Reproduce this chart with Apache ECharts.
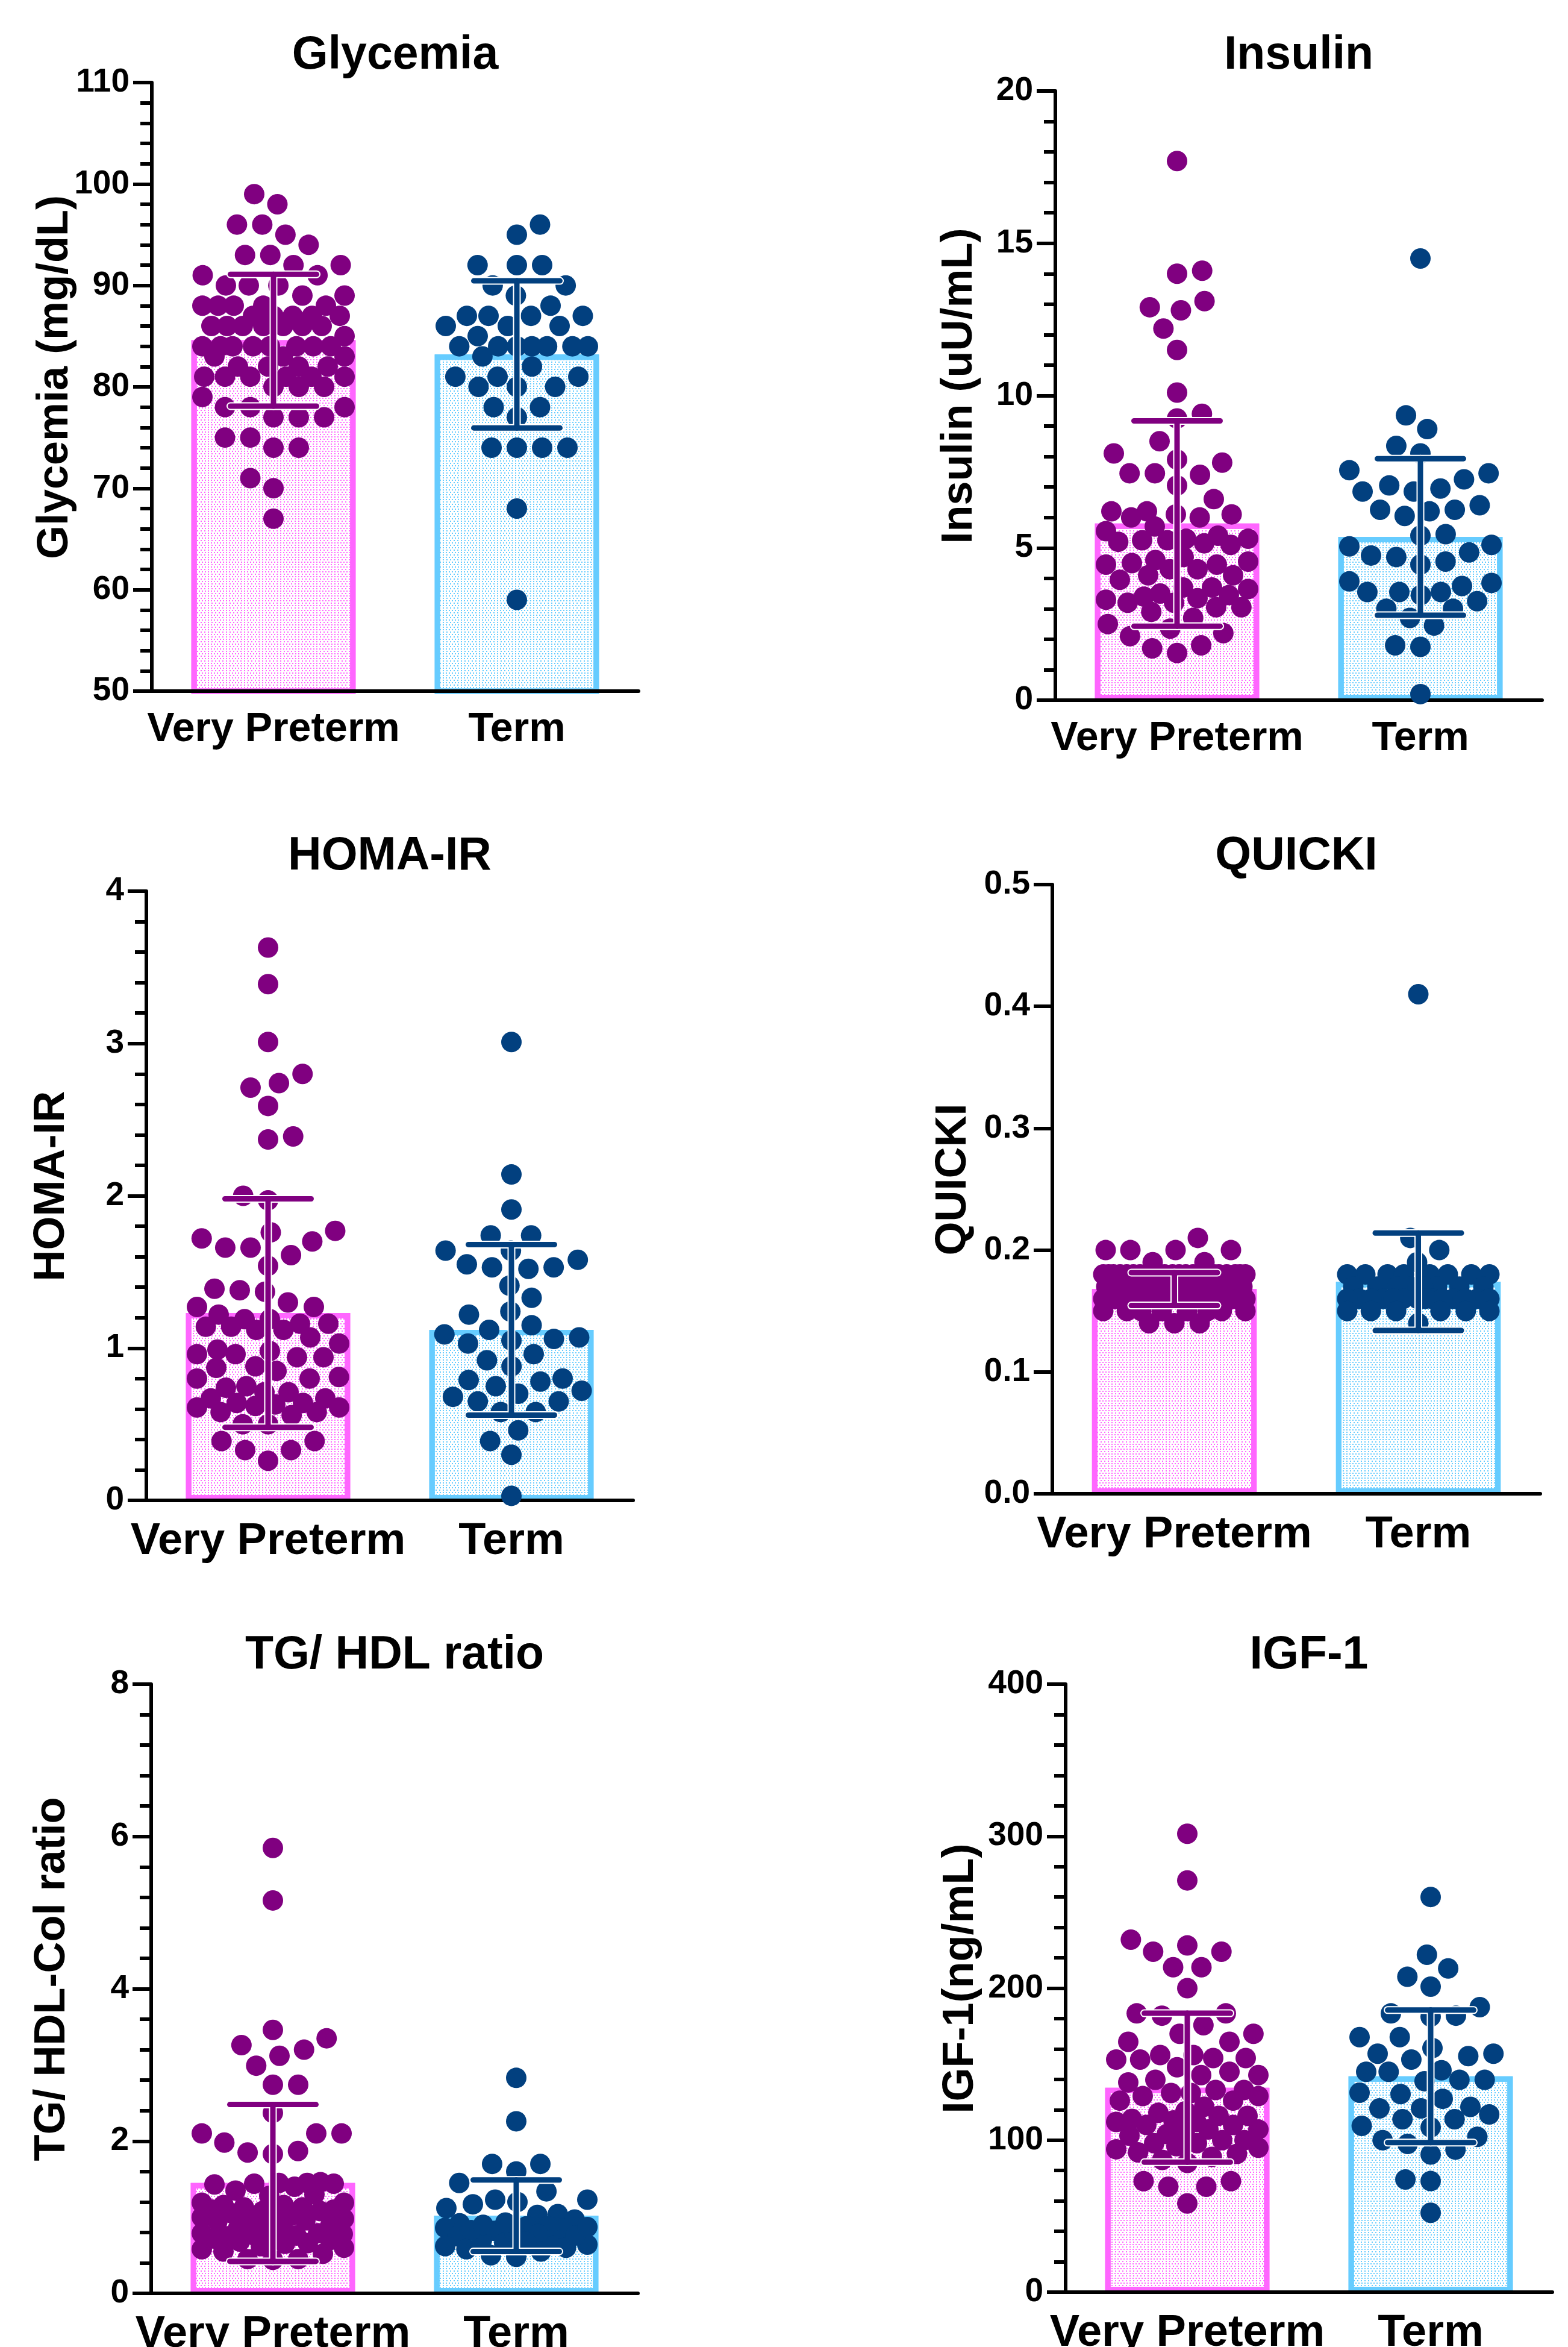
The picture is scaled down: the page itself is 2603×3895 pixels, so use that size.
<!DOCTYPE html>
<html><head><meta charset="utf-8">
<script src="https://cdn.jsdelivr.net/npm/echarts@6.0.0/dist/echarts.min.js"></script>
<style>html,body{margin:0;padding:0;background:#fff}#c{width:2603px;height:3895px}</style>
</head><body><div id="c"></div><script>
// ---------------- DATA ----------------
const categories = ['Very Preterm', 'Term'];

const glyVP = [99, 98, 96, 96, 95, 94, 93, 93, 92, 92, 91, 91, 90, 90, 90, 89, 89, 88, 88, 88, 88, 88, 87, 87, 87, 87, 87, 86, 86, 86, 86, 86, 86, 86, 85, 84, 84, 84, 84, 84, 84, 84, 84, 83, 83, 83, 82, 82, 82, 82, 81, 81, 81, 81, 81, 81, 80, 80, 80, 79, 78, 78, 78, 77, 77, 77, 75, 75, 74, 74, 71, 70, 67];
const glyTerm = [96, 95, 92, 92, 92, 90, 90, 89, 88, 87, 87, 87, 87, 86, 86, 86, 85, 84, 84, 84, 84, 84, 84, 84, 83, 82, 81, 81, 81, 80, 80, 80, 78, 78, 77, 74, 74, 74, 74, 68, 59];
const glyMean = [84.6, 83.2];
const glySD = [6.5, 7.25];

const insVP = [17.7, 14.0, 14.1, 12.9, 12.8, 13.1, 12.2, 11.5, 10.1, 9.4, 9.25, 8.5, 8.1, 7.9, 7.8, 7.45, 7.4, 7.45, 7.05, 6.6, 6.2, 6.1, 6.0, 6.0, 6.1, 6.2, 5.7, 5.55,
  5.4, 5.3, 5.25, 5.15, 5.1, 5.2, 5.25, 5.3,
  4.7, 4.5, 4.45, 4.3, 4.1, 3.95, 4.1, 4.3, 4.45, 4.55, 4.6,
  3.7, 3.65,
  3.7, 3.4, 3.3, 3.2, 3.05, 2.9, 3.05, 3.2, 3.35, 3.45, 3.5,
  2.7, 2.5, 2.35, 2.2, 2.1, 1.8, 1.7, 1.55];
const insTerm = [14.5, 9.35, 8.9, 8.35, 8.1, 7.45, 7.55, 7.05, 6.85, 6.85, 6.95, 7.25, 6.25, 6.2, 6.05, 6.25, 6.4, 5.45, 5.4, 5.05, 5.1, 4.75, 4.7, 4.85, 4.55, 4.45, 3.9, 3.85, 3.55, 3.55, 3.25, 3.45, 3.55, 3.75, 3.0, 3.0, 2.7, 2.45, 1.8, 1.75, 0.2];
const insMean = [5.8, 5.36];
const insSD = [3.37, 2.57];

const homaVP = [3.63, 3.39, 3.01, 2.80, 2.71, 2.74, 2.59, 2.37, 2.39, 2.00, 1.97, 1.77, 1.76, 1.72, 1.70, 1.66, 1.66, 1.61, 1.54, 1.38, 1.37, 1.39, 1.27, 1.30, 1.27, 1.22, 1.19, 1.16, 1.14, 1.14, 1.16, 1.19, 1.12, 1.12, 1.07, 1.03, 0.98, 0.96, 0.94, 0.94, 0.96, 0.99, 0.87, 0.88, 0.85, 0.81, 0.80, 0.80, 0.74, 0.71, 0.71, 0.75, 0.67, 0.64, 0.63, 0.61, 0.58, 0.56, 0.58, 0.61, 0.62, 0.64, 0.67, 0.50, 0.50, 0.39, 0.39, 0.33, 0.33, 0.26];
const homaTerm = [3.01, 2.14, 1.91, 1.74, 1.74, 1.64, 1.64, 1.58, 1.55, 1.53, 1.52, 1.53, 1.41, 1.33, 1.24, 1.22, 1.15, 1.12, 1.09, 1.07, 1.06, 1.03, 1.05, 0.96, 0.92, 0.88, 0.79, 0.78, 0.80, 0.75, 0.72, 0.68, 0.70, 0.65, 0.65, 0.58, 0.58, 0.46, 0.39, 0.30, 0.03];
const homaMean = [1.23, 1.12];
const homaSD = [0.75, 0.56];

const quickiVP = [0.21, 0.20, 0.20, 0.20, 0.20, 0.19, 0.19,
  0.18, 0.18, 0.18, 0.18, 0.18, 0.18, 0.18, 0.18, 0.18, 0.18, 0.18, 0.18, 0.18, 0.18, 0.18, 0.18, 0.18, 0.18, 0.18, 0.18, 0.18, 0.18,
  0.17, 0.17, 0.17, 0.17, 0.17, 0.17, 0.17, 0.17, 0.17, 0.17,
  0.16, 0.16, 0.16, 0.16, 0.16, 0.16, 0.16, 0.16, 0.16, 0.16, 0.16, 0.16, 0.16, 0.16, 0.16, 0.16, 0.16, 0.16, 0.16, 0.16,
  0.15, 0.15, 0.15, 0.15, 0.15, 0.15, 0.15, 0.15,
  0.14, 0.14, 0.14];
const quickiTerm = [0.41, 0.21, 0.20, 0.19,
  0.18, 0.18, 0.18, 0.18, 0.18, 0.18, 0.18, 0.18,
  0.17, 0.17, 0.17, 0.17, 0.17, 0.17, 0.17, 0.17,
  0.16, 0.16, 0.16, 0.16, 0.16, 0.16, 0.16, 0.16, 0.16, 0.16, 0.16, 0.16, 0.16, 0.16,
  0.15, 0.15, 0.15, 0.15, 0.15, 0.15,
  0.14];
const quickiMean = [0.168, 0.174];
const quickiSD = [0.0135, 0.040];

const tgVP = [5.85, 5.16, 3.46, 3.35, 3.26, 3.20, 3.12, 2.99, 2.74, 2.74, 2.37, 2.10, 2.10, 2.10, 1.98, 1.85, 1.83, 1.87, 1.45, 1.44, 1.43, 1.44, 1.45, 1.46, 1.30, 1.28,
  1.19, 1.16, 1.13, 1.10, 1.08, 1.08, 1.10, 1.13, 1.16, 1.19,
  1.05, 1.02, 1.00, 0.98, 0.96, 0.95, 0.97, 1.01,
  0.79, 0.77, 0.75, 0.72, 0.68, 0.62, 0.66, 0.73, 0.76, 0.78, 0.79,
  0.85, 0.82, 0.70, 0.65, 0.58, 0.55, 0.60, 0.88,
  0.45, 0.44, 0.45, 1.40, 1.35, 0.90, 0.52];
const tgTerm = [2.83, 2.26, 1.70, 1.70, 1.60, 1.45, 1.34, 1.23, 1.20, 1.17, 1.23, 1.12, 1.04, 0.97, 1.03, 0.92,
  0.88, 0.86, 0.82, 0.75, 0.66, 0.50, 0.62, 0.72, 0.80, 0.85, 0.88,
  0.78, 0.55, 0.60, 0.70, 0.83, 0.90, 0.68, 0.64, 0.58, 0.76, 0.87, 0.93, 0.48];
const tgMean = [1.45, 1.02];
const tgSD = [1.03, 0.47];

const igfVP = [301.6, 270.9, 231.9, 228.1, 224, 224, 213.8, 213.8, 200, 183.4, 183.4, 181.9, 175.6, 170, 170, 164.7, 164.7, 156, 154, 153, 153, 154, 156, 142.8, 142.8, 139.7, 133, 131, 129, 126, 126, 129, 131, 133, 118, 119,
  116, 113, 112, 110, 107, 106, 107, 110, 112, 114, 116,
  100, 98, 95, 92, 87, 85, 89, 94, 98, 100,
  73, 73, 69.4, 69.4, 58.4,
  122, 104, 103, 96, 91, 138, 148, 145];
const igfTerm = [260, 222, 207.5, 213, 201, 183.4, 181.3, 181.9, 187.5, 167.8, 167.8, 156.9, 160.6, 156.9, 153, 155.3, 145, 145, 146, 139.7, 138.8, 139.7, 130.3, 127.2, 131.2, 121.9, 120.9, 120.9, 113.8, 113.8, 116.9, 108.4, 109.4, 100, 102.2, 93.8, 97.5, 90.6, 74.1, 73.1, 52.2];
const igfMean = [134.5, 142];
const igfSD = [49, 43.6];

const titles = ['Glycemia', 'Insulin', 'HOMA-IR', 'QUICKI', 'TG/ HDL ratio', 'IGF-1'];
const yNames = ['Glycemia (mg/dL)', 'Insulin (uU/mL)', 'HOMA-IR', 'QUICKI', 'TG/ HDL-Col ratio', 'IGF-1(ng/mL)'];
const yMins = [50, 0, 0, 0, 0, 0];
const yMaxs = [110, 20, 4, 0.5, 8, 400];
const yIntervals = [10, 5, 1, 0.1, 2, 100];

// ---------------- LAYOUT / STYLE ----------------
const FONT = '"Liberation Sans", Arial, Helvetica, sans-serif';
const layout = [
  {left: 252, top: 137, width: 808, height: 1010, titleY: 93, nameGap: 124, catFont: 68, catMargin: 30, minor: true, dec: 0},
  {left: 1752, top: 151, width: 808, height: 1011, titleY: 93, nameGap: 123, catFont: 68, catMargin: 30, minor: true, dec: 0},
  {left: 243, top: 1479, width: 808, height: 1011, titleY: 1422, nameGap: 121, catFont: 74, catMargin: 32, minor: true, dec: 0},
  {left: 1747, top: 1468, width: 810, height: 1011, titleY: 1422, nameGap: 128, catFont: 74, catMargin: 32, minor: false, dec: 1},
  {left: 251, top: 2795, width: 808, height: 1011, titleY: 2748, nameGap: 128, catFont: 74, catMargin: 32, minor: true, dec: 0},
  {left: 1769, top: 2795, width: 808, height: 1009, titleY: 2748, nameGap: 138, catFont: 74, catMargin: 32, minor: true, dec: 0}
];
const groups = [
  [glyVP, glyTerm, glyMean, glySD],
  [insVP, insTerm, insMean, insSD],
  [homaVP, homaTerm, homaMean, homaSD],
  [quickiVP, quickiTerm, quickiMean, quickiSD],
  [tgVP, tgTerm, tgMean, tgSD],
  [igfVP, igfTerm, igfMean, igfSD]
];
const dotColors = ['#800080', '#02407F'];
const barBorders = ['#FF66FF', '#66CCFF'];
const DOT = 34, COLLIDE = 42, HALFW = 118;

// beeswarm: offsets (px) so dots do not collide, computed from values
function swarm(vals, pxPerUnit) {
  const order = vals.map((v, i) => i).sort((a, b) => vals[a] - vals[b]);
  const placed = [], out = new Array(vals.length);
  let flip = -1;
  const D = COLLIDE, limit = HALFW;
  for (const i of order) {
    const y = vals[i] * pxPerUnit;
    const near = placed.filter(q => Math.abs(q.y - y) < D);
    const ivs = near.map(q => { const h = Math.sqrt(D * D - (q.y - y) * (q.y - y)); return [q.x - h, q.x + h]; });
    const cands = [0];
    ivs.forEach(iv => cands.push(iv[0], iv[1]));
    const free = cands.filter(c => Math.abs(c) <= limit + 1e-6 && ivs.every(iv => c <= iv[0] + 1e-6 || c >= iv[1] - 1e-6));
    let x = 0;
    if (free.length) {
      let best = Infinity;
      free.forEach(c => { if (Math.abs(c) < best) best = Math.abs(c); });
      const same = free.filter(c => Math.abs(Math.abs(c) - best) < 1e-6);
      const hasNeg = same.some(c => c < -1e-6), hasPos = same.some(c => c > 1e-6);
      if (best < 1e-6) x = 0;
      else if (hasNeg && hasPos) { x = flip * best; flip = -flip; }
      else x = hasPos ? best : -best;
    } else {
      let bestScore = -1;
      for (let c = -limit; c <= limit; c += 1) {
        let md = Infinity;
        near.forEach(q => { const d = Math.hypot(q.x - c, q.y - y); if (d < md) md = d; });
        if (md > bestScore + 1e-6 || (Math.abs(md - bestScore) < 1e-6 && Math.abs(c) < Math.abs(x))) { bestScore = md; x = c; }
      }
    }
    placed.push({x, y});
    out[i] = x;
  }
  return out;
}

const grid = [], xAxis = [], yAxis = [], series = [], graphic = [];
layout.forEach((L, p) => {
  grid.push({left: L.left, top: L.top, width: L.width, height: L.height, containLabel: false, outerBoundsMode: 'none'});
  xAxis.push({
    type: 'category', gridIndex: p, data: categories, z: 2,
    axisLine: {onZero: false, lineStyle: {color: '#000', width: 6}},
    axisTick: {alignWithLabel: true, length: 14, lineStyle: {color: '#000', width: 6}},
    axisLabel: {color: '#000', fontSize: L.catFont, fontWeight: 'bold', fontFamily: FONT, margin: L.catMargin, interval: 0}
  });
  xAxis.push({type: 'value', gridIndex: p, min: -0.5, max: 1.5, show: false});
  yAxis.push({
    type: 'value', gridIndex: p, min: yMins[p], max: yMaxs[p], interval: yIntervals[p], z: 2,
    axisLine: {show: true, onZero: false, lineStyle: {color: '#000', width: 6}},
    axisTick: {show: true, length: 31, lineStyle: {color: '#000', width: 6}},
    minorTick: {show: L.minor, splitNumber: 5, length: 19, lineStyle: {color: '#000', width: 6}},
    splitLine: {show: false}, minorSplitLine: {show: false},
    axisLabel: {color: '#000', fontSize: 55, fontWeight: 'bold', fontFamily: FONT, margin: 37,
      formatter: v => Number(v).toFixed(L.dec)},
    name: yNames[p], nameLocation: 'middle', nameGap: L.nameGap, nameRotate: 90, nameMoveOverlap: false,
    nameTextStyle: {color: '#000', fontSize: 72, fontWeight: 'bold', fontFamily: FONT, padding: [0, 0, 0, 32]}
  });
  graphic.push({type: 'text', x: L.left + L.width / 2, y: L.titleY, z: 10,
    style: {text: titles[p], fill: '#000', font: 'bold 77px ' + FONT, align: 'center', verticalAlign: 'middle', textAlign: 'center', textVerticalAlign: 'middle'}});

  const [vp, term, mean, sd] = groups[p];
  const yPx = L.height / (yMaxs[p] - yMins[p]);
  const xPx = L.width / 2;
  const deco = c => ({symbol: 'rect', symbolSize: 1, color: c, dashArrayX: [[2, 3], [0, 2.5, 2, 0.5]], dashArrayY: [2, 2], rotation: 0});
  series.push({
    type: 'bar', xAxisIndex: 2 * p, yAxisIndex: p, barWidth: '67.5%', z: 1, clip: true,
    data: mean.map((m, k) => ({value: m, itemStyle: {color: '#fff', borderColor: barBorders[k], borderWidth: 9, decal: deco(barBorders[k])}})),
    emphasis: {disabled: true}
  });
  [vp, term].forEach((vals, k) => {
    const offs = swarm(vals, yPx);
    series.push({
      type: 'scatter', xAxisIndex: 2 * p + 1, yAxisIndex: p, z: 3, symbolSize: DOT, clip: false,
      itemStyle: {color: dotColors[k], opacity: 1},
      data: vals.map((v, j) => [k + offs[j] / xPx, v]),
      emphasis: {disabled: true}
    });
  });
  series.push({
    type: 'custom', xAxisIndex: 2 * p + 1, yAxisIndex: p, z: 4, clip: false,
    encode: {x: 0, y: 1},
    data: mean.map((m, k) => [k, m, sd[k]]),
    renderItem: (params, api) => {
      const x = api.value(0), m = api.value(1), s = api.value(2);
      const top = api.coord([x, m + s]), bot = api.coord([x, m - s]);
      const half = 71.5;
      const col = dotColors[params.dataIndex];
      const mk = (w, c) => [
        {type: 'line', shape: {x1: top[0], y1: top[1], x2: bot[0], y2: bot[1]}, style: {stroke: c, lineWidth: w, lineCap: 'round'}},
        {type: 'line', shape: {x1: top[0] - half, y1: top[1], x2: top[0] + half, y2: top[1]}, style: {stroke: c, lineWidth: w, lineCap: 'round'}},
        {type: 'line', shape: {x1: bot[0] - half, y1: bot[1], x2: bot[0] + half, y2: bot[1]}, style: {stroke: c, lineWidth: w, lineCap: 'round'}}
      ];
      return {type: 'group', children: mk(13, '#fff').concat(mk(9, col))};
    }
  });
});

const chart = echarts.init(document.getElementById('c'), null, {renderer: 'canvas'});
chart.setOption({backgroundColor: '#fff', animation: false, grid, xAxis, yAxis, series, graphic});
</script></body></html>
